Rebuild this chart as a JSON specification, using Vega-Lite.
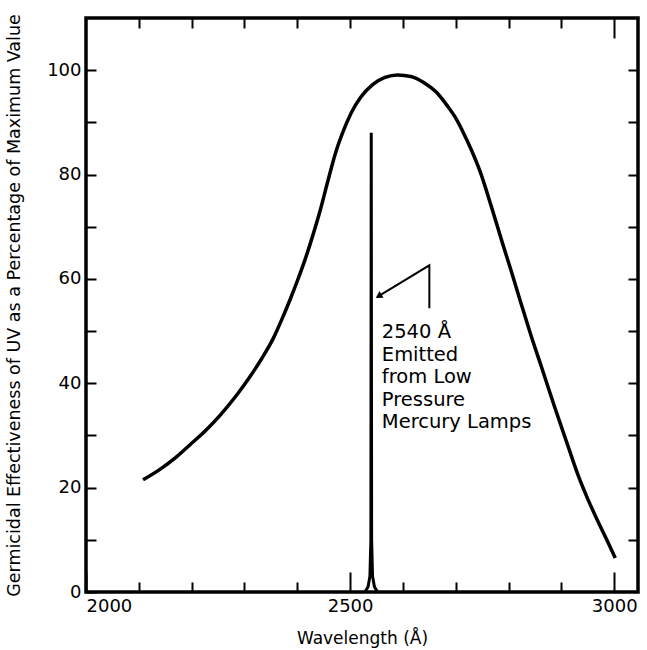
{
  "$schema": "https://vega.github.io/schema/vega-lite/v6.json",
  "autosize": "none",
  "width": 552,
  "height": 574,
  "padding": {"left": 86, "top": 18, "right": 9, "bottom": 58},
  "background": "white",
  "config": {
    "view": {"stroke": "black", "strokeWidth": 3.5},
    "font": "DejaVu Sans",
    "axis": {"domain": false, "grid": false, "tickColor": "black", "tickWidth": 2, "labelColor": "black", "titleColor": "black", "labelFont": "DejaVu Sans", "titleFont": "DejaVu Sans", "labelFontSize": 18, "titleFontSize": 17, "titleFontWeight": "normal"}
  },
  "datasets": {
    "curve": [
      {"x": 2108, "y": 21.5}, {"x": 2140, "y": 23.5}, {"x": 2169, "y": 25.7}, {"x": 2200, "y": 28.5},
      {"x": 2227, "y": 31}, {"x": 2255, "y": 34}, {"x": 2285, "y": 37.7}, {"x": 2310, "y": 41.2},
      {"x": 2333, "y": 44.8}, {"x": 2355, "y": 48.7}, {"x": 2371, "y": 52.3}, {"x": 2387, "y": 56.2},
      {"x": 2400, "y": 59.6}, {"x": 2415, "y": 63.8}, {"x": 2429, "y": 68.2}, {"x": 2443, "y": 73},
      {"x": 2458, "y": 78.8}, {"x": 2472, "y": 84}, {"x": 2487, "y": 88.3}, {"x": 2502, "y": 91.8},
      {"x": 2520, "y": 94.8}, {"x": 2542, "y": 97.2}, {"x": 2566, "y": 98.6}, {"x": 2590, "y": 99.1},
      {"x": 2615, "y": 98.8}, {"x": 2640, "y": 97.6}, {"x": 2663, "y": 95.8}, {"x": 2683, "y": 93.3},
      {"x": 2700, "y": 90.8}, {"x": 2713, "y": 88.3}, {"x": 2730, "y": 84.6}, {"x": 2746, "y": 80.6},
      {"x": 2767, "y": 74}, {"x": 2788, "y": 67}, {"x": 2805, "y": 61.5}, {"x": 2823, "y": 55.5},
      {"x": 2842, "y": 49.3}, {"x": 2862, "y": 43.2}, {"x": 2887, "y": 35.5}, {"x": 2913, "y": 27.8},
      {"x": 2933, "y": 22}, {"x": 2950, "y": 17.8}, {"x": 2967, "y": 14}, {"x": 2985, "y": 10.2},
      {"x": 3002, "y": 6.5}
    ],
    "lamp": [
      {"x": 2528, "y": 0}, {"x": 2534, "y": 1}, {"x": 2537.5, "y": 3}, {"x": 2539.3, "y": 10},
      {"x": 2540, "y": 88}, {"x": 2540.7, "y": 10}, {"x": 2542.5, "y": 3}, {"x": 2546, "y": 1}, {"x": 2552, "y": 0}
    ],
    "arrow": [
      {"x": 2650, "y": 54.4, "o": 1}, {"x": 2650, "y": 62.6, "o": 2}, {"x": 2557, "y": 56.9, "o": 3}
    ],
    "head": [{"x": 2554, "y": 56.7}],
    "note": [{"x": 2560, "y": 49.8, "label": "2540 Å\nEmitted\nfrom Low\nPressure\nMercury Lamps"}]
  },
  "layer": [
    {
      "data": {"name": "curve"},
      "mark": {"type": "line", "color": "black", "strokeWidth": 3.5, "interpolate": "monotone"},
      "encoding": {
        "x": {"field": "x", "type": "quantitative", "scale": {"domain": [2000, 3045], "nice": false, "zero": false},
          "axis": {"orient": "bottom", "title": "Wavelength (Å)", "values": [2000, 2100, 2200, 2300, 2400, 2500, 2600, 2700, 2800, 2900, 3000],
            "format": "d", "labelExpr": "datum.value % 500 === 0 ? datum.label : ''", "labelFlush": true,
            "tickSize": {"condition": {"test": "datum.value % 500 === 0", "value": -20}, "value": -10},
            "labelPadding": 25, "titlePadding": 15}},
        "y": {"field": "y", "type": "quantitative", "scale": {"domain": [0, 110], "nice": false},
          "axis": {"orient": "left", "title": "Germicidal Effectiveness of UV as a Percentage of Maximum Value",
            "titleFontSize": 17.5,
            "values": [0, 10, 20, 30, 40, 50, 60, 70, 80, 90, 100],
            "labelExpr": "datum.value % 20 === 0 ? datum.label : ''", "tickSize": -10, "labelPadding": 15, "titlePadding": 23}}
      }
    },
    {
      "data": {"name": "lamp"},
      "mark": {"type": "line", "color": "black", "strokeWidth": 3},
      "encoding": {
        "x": {"field": "x", "type": "quantitative", "scale": {"domain": [2000, 3045], "nice": false, "zero": false},
          "axis": {"orient": "top", "title": null, "labels": false, "values": [2100, 2200, 2300, 2400, 2500, 2600, 2700, 2800, 2900, 3000],
            "tickSize": {"condition": {"test": "datum.value === 3000", "value": -20}, "value": -10}}},
        "y": {"field": "y", "type": "quantitative", "scale": {"domain": [0, 110], "nice": false},
          "axis": {"orient": "right", "title": null, "labels": false, "values": [10, 20, 30, 40, 50, 60, 70, 80, 90, 100], "tickSize": -10}}
      }
    },
    {
      "data": {"name": "arrow"},
      "mark": {"type": "line", "color": "black", "strokeWidth": 2},
      "encoding": {
        "x": {"field": "x", "type": "quantitative", "axis": null},
        "y": {"field": "y", "type": "quantitative", "axis": null},
        "order": {"field": "o"}
      }
    },
    {
      "data": {"name": "head"},
      "mark": {"type": "point", "shape": "triangle-up", "filled": true, "color": "black", "size": 60, "angle": 238, "opacity": 1},
      "encoding": {
        "x": {"field": "x", "type": "quantitative", "axis": null},
        "y": {"field": "y", "type": "quantitative", "axis": null}
      }
    },
    {
      "data": {"name": "note"},
      "mark": {"type": "text", "align": "left", "baseline": "middle", "fontSize": 19.5, "lineHeight": 22.5, "lineBreak": "\n", "color": "black", "font": "DejaVu Sans"},
      "encoding": {
        "x": {"field": "x", "type": "quantitative", "axis": null},
        "y": {"field": "y", "type": "quantitative", "axis": null},
        "text": {"field": "label"}
      }
    }
  ],
  "resolve": {"axis": {"x": "independent", "y": "independent"}}
}
